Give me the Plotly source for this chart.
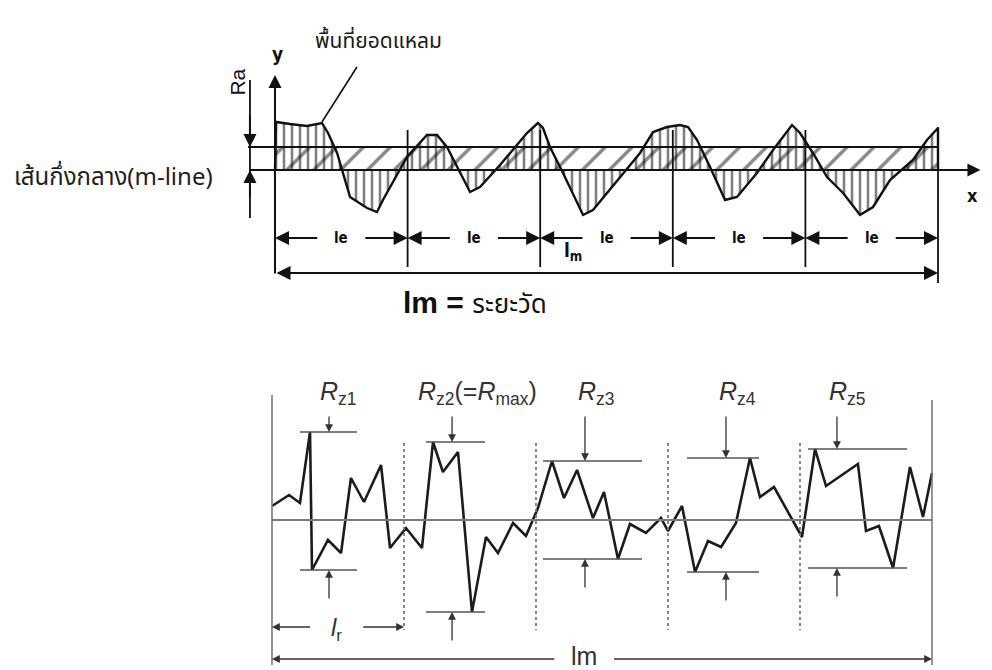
import plotly.graph_objects as go

# ---------------- TOP DIAGRAM DATA (x in sampling lengths le, y relative to m-line) -------------
top_x = [0.0, 0.008, 0.113, 0.241, 0.354, 0.400, 0.468, 0.566, 0.694, 0.769, 0.814, 0.995, 1.146,
         1.222, 1.297, 1.395, 1.471, 1.546, 1.697, 1.900, 1.983, 2.021, 2.074, 2.172, 2.323,
         2.398, 2.624, 2.753, 2.851, 2.956, 3.054, 3.115, 3.183, 3.281, 3.394, 3.484, 3.635,
         3.756, 3.899, 3.959, 4.057, 4.163, 4.284, 4.412, 4.510, 4.638, 4.811, 4.917, 5.0, 5.0]
top_y = [0.0, 4.8, 4.6, 4.4, 4.7, 3.7, 1.7, -2.7, -3.8, -4.2, -3.0, 1.3, 3.5,
         3.5, 2.3, -0.3, -2.2, -1.7, 0.5, 3.7, 4.7, 4.2, 2.3, -0.3, -4.5,
         -4.0, -0.3, 1.7, 3.8, 4.3, 4.5, 4.3, 3.0, 0.3, -3.0, -2.7, -0.3,
         2.0, 4.5, 3.7, 1.7, -0.7, -2.3, -4.5, -3.7, -1.0, 1.0, 3.0, 4.2, 0.0]
top_ra = 2.3
top_sections = [0, 1, 2, 3, 4, 5]
top_le_label = "le"

# ---------------- BOTTOM DIAGRAM DATA (x in sampling lengths lr, y relative to mean line) -------
bot_x = [0.0, 0.129, 0.212, 0.288, 0.303, 0.424, 0.523, 0.598, 0.697, 0.826, 0.894, 1.015,
         1.136, 1.220, 1.295, 1.409, 1.515, 1.621, 1.712, 1.826, 1.924, 2.015, 2.121, 2.212,
         2.311, 2.432, 2.515, 2.621, 2.712, 2.833, 2.947, 3.0, 3.106, 3.205, 3.303, 3.402,
         3.515, 3.621, 3.697, 3.803, 4.015, 4.114, 4.197, 4.439, 4.5, 4.598, 4.705, 4.833,
         4.932, 5.0]
bot_y = [1.4, 2.5, 1.7, 8.8, -5.0, -2.0, -3.3, 4.2, 1.8, 5.5, -2.8, -0.8,
         -2.8, 7.8, 4.8, 6.8, -9.2, -1.7, -3.3, -0.3, -1.6, 1.2, 5.9, 2.2,
         5.0, 0.2, 2.8, -3.9, -0.4, -1.3, 0.2, -1.1, 1.4, -5.2, -2.1, -2.7,
         -0.3, 6.2, 2.3, 3.3, -1.7, 7.1, 3.4, 5.6, -1.1, -0.6, -4.8, 5.3,
         0.3, 4.7]
bot_sections = [0, 1, 2, 3, 4, 5]
rz_labels = ["<i>R</i><sub>z1</sub>", "<i>R</i><sub>z2</sub>(=<i>R</i><sub>max</sub>)",
             "<i>R</i><sub>z3</sub>", "<i>R</i><sub>z4</sub>", "<i>R</i><sub>z5</sub>"]
rz_label_x = [0.50, 1.56, 2.46, 3.53, 4.36]
rz_line_x0 = [0.212, 1.167, 2.053, 3.144, 4.061]
rz_line_x1 = [0.644, 1.614, 2.803, 3.689, 4.811]
rz_arrow_x = [0.432, 1.364, 2.371, 3.439, 4.280]

# ---------------- FIGURE -----------------------------------------------------------------------
W, H = 992, 670
fig = go.Figure()

BLK = "#111111"
GRY = "#7a7a7a"
COND = "DejaVu Sans Condensed, DejaVu Sans, sans-serif"
THAI = "Noto Sans Thai, Loma, Garuda, Tahoma, Noto Sans, sans-serif"

# top: m-line band (diagonal hatch)
fig.add_trace(go.Scatter(
    x=[0, 5, 5, 0, 0], y=[0, 0, top_ra, top_ra, 0], mode="lines", fill="toself",
    line=dict(width=0, color="rgba(0,0,0,0)"), fillcolor="rgba(0,0,0,0)",
    fillpattern=dict(shape="/", size=19, solidity=0.18, fgcolor=BLK, bgcolor="rgba(0,0,0,0)"),
    hoverinfo="skip", showlegend=False, xaxis="x", yaxis="y"))
# top: profile with vertical hatch
fig.add_trace(go.Scatter(
    x=top_x, y=top_y, mode="lines", fill="toself",
    line=dict(width=2.4, color=BLK), fillcolor="rgba(0,0,0,0)",
    fillpattern=dict(shape="|", size=8, solidity=0.32, fgcolor="#000000", bgcolor="rgba(0,0,0,0)"),
    hoverinfo="skip", showlegend=False, xaxis="x", yaxis="y"))

# bottom: profile
fig.add_trace(go.Scatter(
    x=bot_x, y=bot_y, mode="lines", line=dict(width=2.6, color="#1c1c1c"),
    hoverinfo="skip", showlegend=False, xaxis="x2", yaxis="y2"))

shapes = []
ann = []


def line(x0, y0, x1, y1, ax="", color=BLK, width=2, dash="solid"):
    shapes.append(dict(type="line", xref="x" + ax, yref="y" + ax, x0=x0, y0=y0, x1=x1, y1=y1,
                       line=dict(color=color, width=width, dash=dash), layer="above"))


def arrow(xh, yh, xt, yt, ax="", color=BLK, width=2, size=1.0, head=2, side="end"):
    ann.append(dict(xref="x" + ax, yref="y" + ax, axref="x" + ax, ayref="y" + ax,
                    x=xh, y=yh, ax=xt, ay=yt, text="", showarrow=True, arrowhead=head,
                    startarrowhead=head, arrowside=side, arrowsize=size, startarrowsize=size,
                    arrowwidth=width, arrowcolor=color, standoff=0, startstandoff=0))


def text(x, y, t, ax="", size=16, color=BLK, family="Liberation Sans, Arial, sans-serif",
         angle=0, xanchor="center", yanchor="middle"):
    ann.append(dict(xref="x" + ax, yref="y" + ax, x=x, y=y, text=t, showarrow=False,
                    font=dict(size=size, color=color, family=family), textangle=angle,
                    xanchor=xanchor, yanchor=yanchor))


# ----- top diagram lines
line(-0.204, top_ra, 5.0, top_ra, width=2)
arrow(5.32, 0, -0.204, 0, width=2, size=1.3)           # x axis
arrow(0, 9.5, 0, -10.5, width=2, size=1.3)              # y axis
for s in top_sections[1:-1]:
    line(s, 4.0, s, -9.7, width=1.8)
line(5.0, 4.3, 5.0, -11.3, width=1.8)
# Ra dimension
line(-0.189, 9.0, -0.189, -4.8, width=1.8)
arrow(-0.189, top_ra, -0.189, 5.6, width=2, size=1.3)
arrow(-0.189, 0, -0.189, -2.8, width=2, size=1.3)
# le arrows
for i in range(len(top_sections) - 1):
    a, b = top_sections[i], top_sections[i + 1]
    m = (a + b) / 2
    arrow(a, -6.8, m - 0.17, -6.8, width=2, size=1.4)
    arrow(b, -6.8, m + 0.17, -6.8, width=2, size=1.4)
    text(m, -6.8, "<b>" + top_le_label + "</b>", size=15, family=COND)
# lm arrow
arrow(5.0, -10.3, 0.0, -10.3, width=2, size=1.4, side="end+start")
text(2.245, -8.1, "<b>l</b><sub><b>m</b></sub>", size=19, family=COND)
# labels
text(0.02, 11.6, "<b>y</b>", size=19, family=COND)
text(5.26, -2.5, "<b>x</b>", size=18, family=COND)
text(-0.29, 8.8, "Ra", size=21, angle=-90, family="Liberation Sans, Arial, sans-serif")
line(0.618, 10.3, 0.354, 4.8, width=1.6)
text(0.777, 12.9, "พื้นที่ยอดแหลม", size=21, color="#1a1a1a", family=THAI)
text(-1.22, -0.8, "เส้นกึ่งกลาง(m-line)", size=24, color="#1e1e1e", family=THAI)
text(1.51, -13.2, "<b>lm =</b> <span style='font-size:26px'>ระยะวัด</span>", size=30,
     color="#111111", family="Liberation Sans, Arial, " + THAI)

# ----- bottom diagram
line(0, 12.5, 0, -14.5, ax="2", color=GRY, width=1.6)
line(5, 12.0, 5, -14.5, ax="2", color=GRY, width=1.6)
line(0, 0, 5, 0, ax="2", color=GRY, width=1.8)
for s in bot_sections[1:-1]:
    line(s, 7.7, s, -11.0, ax="2", color=GRY, width=1.8, dash="dot")

for i in range(len(bot_sections) - 1):
    a, b = bot_sections[i], bot_sections[i + 1]
    seg = [yy for xx, yy in zip(bot_x, bot_y) if a <= xx < b or (i == len(bot_sections) - 2 and xx == b)]
    top, bot = max(seg), min(seg)
    line(rz_line_x0[i], top, rz_line_x1[i], top, ax="2", color="#555555", width=1.6)
    line(rz_line_x0[i], bot, rz_line_x1[i], bot, ax="2", color="#555555", width=1.6)
    arrow(rz_arrow_x[i], top, rz_arrow_x[i], 10.5, ax="2", color="#333333", width=1.3, size=1.2)
    arrow(rz_arrow_x[i], bot, rz_arrow_x[i], bot - 3.0, ax="2", color="#333333", width=1.3, size=1.2)
    text(rz_label_x[i], 12.7, rz_labels[i], ax="2", size=25, color="#333333")

# lr and lm dimensions
arrow(0, -10.7, 0.30, -10.7, ax="2", color="#333333", width=1.3, size=1.2)
arrow(1.0, -10.7, 0.68, -10.7, ax="2", color="#333333", width=1.3, size=1.2)
text(0.49, -10.9, "<i>l</i><sub>r</sub>", ax="2", size=24, color="#333333")
arrow(0, -13.9, 2.15, -13.9, ax="2", color="#333333", width=1.3, size=1.2)
arrow(5.0, -13.9, 2.58, -13.9, ax="2", color="#333333", width=1.3, size=1.2)
text(2.36, -13.6, "lm", ax="2", size=25, color="#333333")

fig.update_layout(
    width=W, height=H, margin=dict(l=0, r=0, t=0, b=0),
    paper_bgcolor="white", plot_bgcolor="rgba(0,0,0,0)",
    xaxis=dict(range=[-275 / 132.6, (W - 275) / 132.6], visible=False, fixedrange=True),
    yaxis=dict(range=[(170 - H) / 10, 170 / 10], visible=False, fixedrange=True),
    xaxis2=dict(range=[-272 / 132, (W - 272) / 132], visible=False, overlaying="x",
                fixedrange=True),
    yaxis2=dict(range=[(520 - H) / 10, 520 / 10], visible=False, overlaying="y",
                fixedrange=True),
    shapes=shapes, annotations=ann, showlegend=False,
)

fig.write_html("out.html")
